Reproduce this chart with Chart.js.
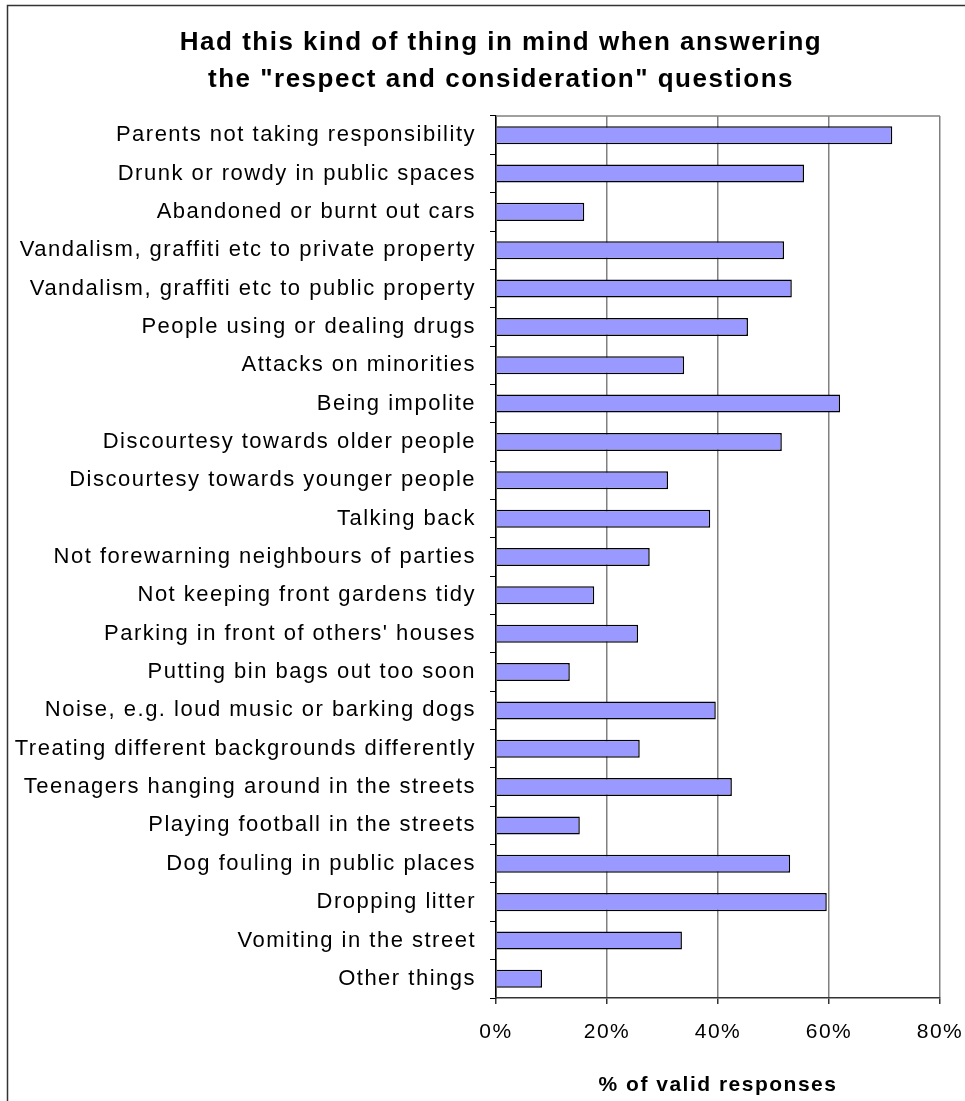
<!DOCTYPE html>
<html>
<head>
<meta charset="utf-8">
<script src="https://cdn.jsdelivr.net/npm/chart.js@4"></script>
<style>
  body { margin: 0; background: #fff; }
  canvas { display: block; }
</style>
</head>
<body>
<canvas id="myChart" width="965" height="1101"></canvas>
<script>
// categories, top to bottom
const categories = [
  "Parents not taking responsibility",
  "Drunk or rowdy in public spaces",
  "Abandoned or burnt out cars",
  "Vandalism, graffiti etc to private property",
  "Vandalism, graffiti etc to public property",
  "People using or dealing drugs",
  "Attacks on minorities",
  "Being impolite",
  "Discourtesy towards older people",
  "Discourtesy towards younger people",
  "Talking back",
  "Not forewarning neighbours of parties",
  "Not keeping front gardens tidy",
  "Parking in front of others' houses",
  "Putting bin bags out too soon",
  "Noise, e.g. loud music or barking dogs",
  "Treating different backgrounds differently",
  "Teenagers hanging around in the streets",
  "Playing football in the streets",
  "Dog fouling in public places",
  "Dropping litter",
  "Vomiting in the street",
  "Other things"
];

// % of valid responses
const percentValues = [
  71.4, 55.5, 15.9, 51.9, 53.3, 45.4, 33.9, 62.0, 51.5, 31.0, 38.6, 27.7,
  17.7, 25.6, 13.3, 39.6, 25.9, 42.5, 15.1, 53.0, 59.6, 33.5, 8.3
];

const titleLines = [
  "Had this kind of thing in mind when answering",
  "the \"respect and consideration\" questions"
];
const xAxisTitle = "% of valid responses";

const fontFamily = "'Liberation Sans', Arial, sans-serif";

// the original text is a bit wider than Liberation Sans, space the letters a little
function spaceLetters(chart) {
  chart.ctx.letterSpacing = '1.5px';
}

// outer frame, title, top border of the plot area
const framePlugin = {
  id: 'frame',
  beforeUpdate(chart) { spaceLetters(chart); },
  beforeDraw(chart) {
    const ctx = chart.ctx;
    spaceLetters(chart);
    ctx.save();
    ctx.fillStyle = '#fff';
    ctx.fillRect(0, 0, chart.width, chart.height);
    ctx.strokeStyle = '#333';
    ctx.lineWidth = 1.5;
    ctx.beginPath();
    ctx.moveTo(7.5, chart.height + 2);
    ctx.lineTo(7.5, 5.5);
    ctx.lineTo(chart.width + 2, 5.5);
    ctx.stroke();

    // title (not centred on the canvas in the original, so drawn here)
    ctx.fillStyle = '#000';
    ctx.font = 'bold 26px ' + fontFamily;
    ctx.textAlign = 'center';
    ctx.textBaseline = 'alphabetic';
    titleLines.forEach((line, i) => {
      ctx.fillText(line, 501, 49.5 + i * 37);
    });
    ctx.restore();
  },
  afterDraw(chart) {
    const a = chart.chartArea;
    const ctx = chart.ctx;
    ctx.save();
    ctx.strokeStyle = '#808080';
    ctx.lineWidth = 1.5;
    ctx.beginPath();
    ctx.moveTo(a.left, a.top);
    ctx.lineTo(a.right, a.top);
    ctx.stroke();
    ctx.restore();
  }
};

const canvas = document.getElementById('myChart').getContext('2d');
const myChart = new Chart(canvas, {
  type: 'bar',
  data: {
    labels: categories,
    datasets: [
      {
        label: '% of valid responses',
        data: percentValues,
        backgroundColor: '#9999ff',
        borderColor: '#000',
        borderWidth: 1.5,
        barPercentage: 0.47,
        categoryPercentage: 1
      }
    ]
  },
  options: {
    indexAxis: 'y',
    responsive: false,
    animation: false,
    layout: {
      padding: { left: 10, right: 25, top: 116, bottom: 0 }
    },
    plugins: {
      legend: { display: false },
      tooltip: { enabled: false },
      title: { display: false }
    },
    scales: {
      y: {
        afterFit(scale) {
          scale.width = 486;
          scale.paddingTop = 0;
          scale.paddingBottom = 0;
        },
        grid: {
          drawOnChartArea: false,
          drawTicks: true,
          tickLength: 6,
          color: '#000',
          lineWidth: 1
        },
        border: { color: '#000', width: 1.5 },
        ticks: {
          color: '#000',
          padding: 14,
          font: { family: fontFamily, size: 22 }
        }
      },
      x: {
        min: 0,
        max: 80,
        afterFit(scale) {
          scale.height = 103;
          scale.paddingLeft = 0;
          scale.paddingRight = 0;
        },
        grid: {
          color: '#808080',
          lineWidth: 1.5,
          tickLength: 6,
          tickColor: '#333'
        },
        border: { color: '#333', width: 1.5 },
        ticks: {
          stepSize: 20,
          color: '#000',
          padding: 16,
          font: { family: fontFamily, size: 21 },
          callback: (v) => v + '%'
        },
        title: {
          display: true,
          text: xAxisTitle,
          color: '#000',
          font: { family: fontFamily, size: 21, weight: 'bold' },
          padding: { top: 0, bottom: 3 }
        }
      }
    }
  },
  plugins: [framePlugin]
});
</script>
</body>
</html>
